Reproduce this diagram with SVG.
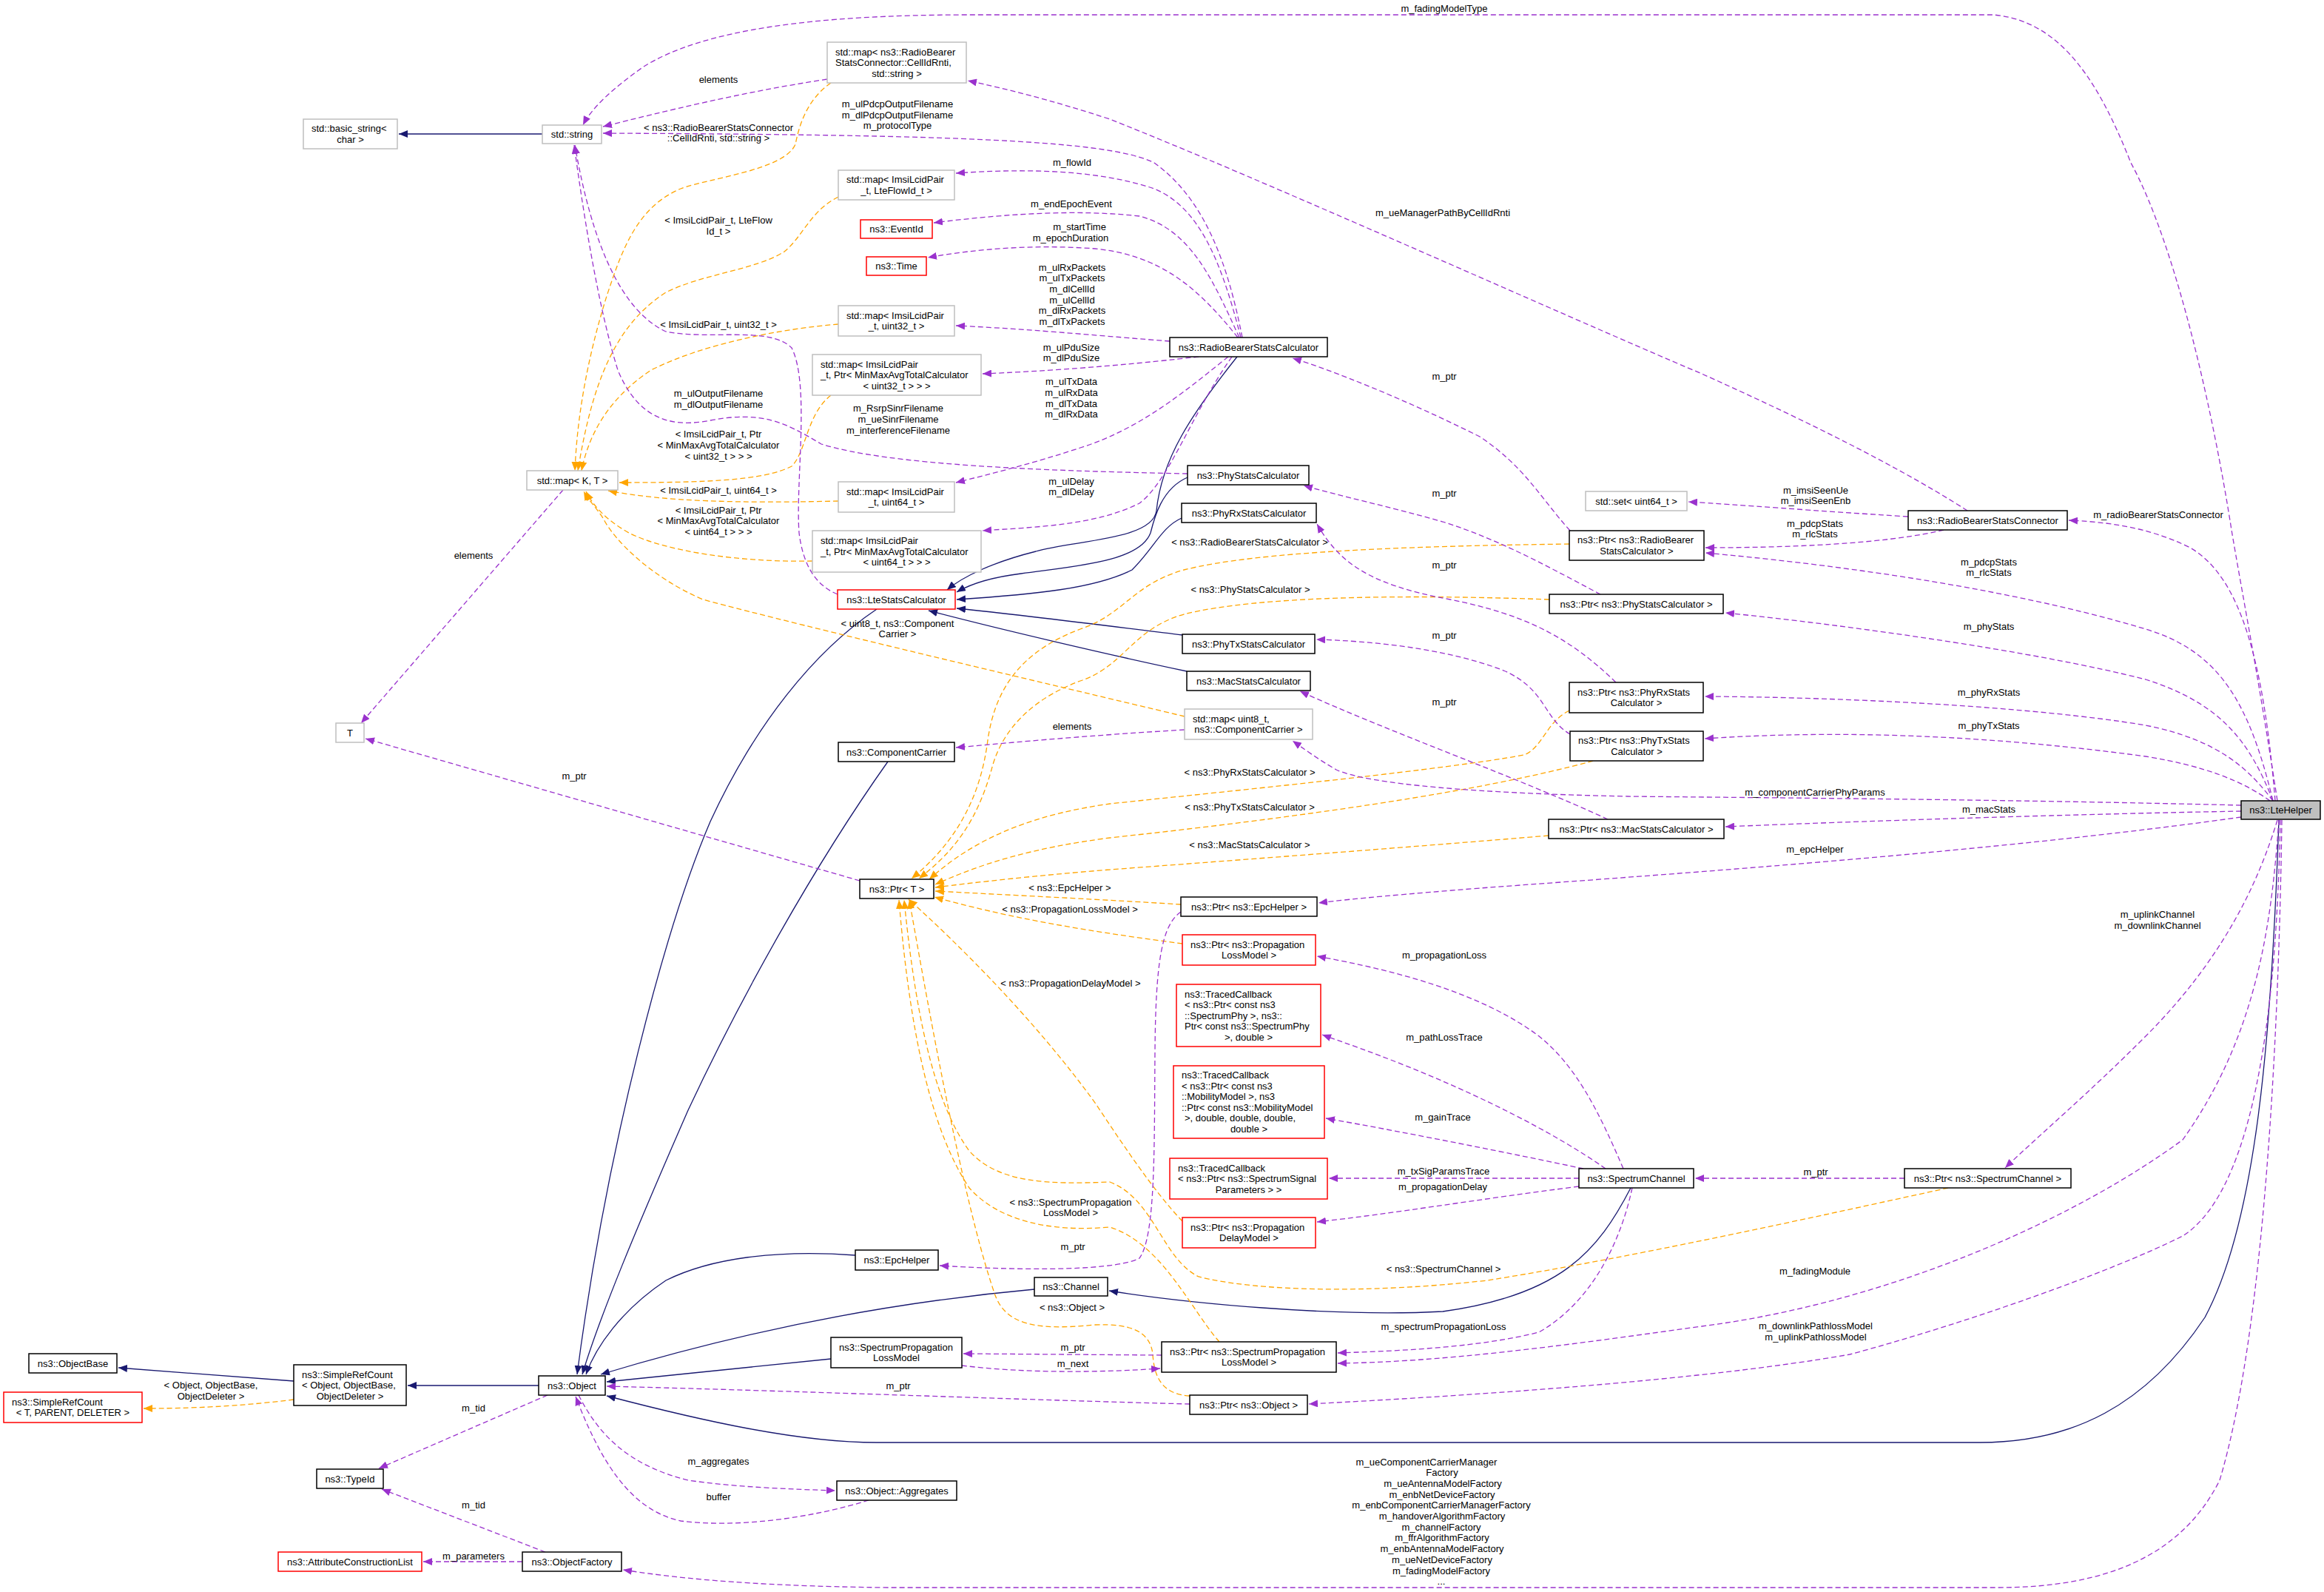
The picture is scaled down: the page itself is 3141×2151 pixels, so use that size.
<svg xmlns="http://www.w3.org/2000/svg" width="3141" height="2151" viewBox="0 0 3141 2151">
<style>
text{font-family:"Liberation Sans",Arial,sans-serif;font-size:13px;fill:#000}
.m{text-anchor:middle}
.s{text-anchor:start}
rect{fill:#fff;stroke-width:1.5}
.k rect{stroke:#000}
.g rect{stroke:#bfbfbf}
.r rect{stroke:#ff0000}
.h rect{stroke:#000;fill:#bfbfbf}
.e path{fill:none;stroke-width:1.3}
.e .inh{stroke:#191970;marker-end:url(#an)}
.e .tpl{stroke:#ffa500;stroke-dasharray:7,4;marker-end:url(#ao)}
.e .use{stroke:#9a32cd;stroke-dasharray:7,4;marker-end:url(#ap)}
</style>
<defs>
<marker id="an" markerUnits="userSpaceOnUse" markerWidth="12" markerHeight="10" refX="12" refY="5" orient="auto"><path d="M0,0 L12,5 L0,10 z" fill="#191970"/></marker>
<marker id="ao" markerUnits="userSpaceOnUse" markerWidth="12" markerHeight="10" refX="12" refY="5" orient="auto"><path d="M0,0 L12,5 L0,10 z" fill="#ffa500"/></marker>
<marker id="ap" markerUnits="userSpaceOnUse" markerWidth="12" markerHeight="10" refX="12" refY="5" orient="auto"><path d="M0,0 L12,5 L0,10 z" fill="#9a32cd"/></marker>
</defs>
<rect x="0" y="0" width="3141" height="2151" style="fill:#fff;stroke:none"/>

<g id="edges" class="e">
<!-- inheritance -->
<path class="inh" d="M733,181 L539,181"/>
<path class="inh" d="M1672,482 C1610,560 1570,620 1563,690 C1558,730 1450,730 1400,745 C1340,760 1300,780 1280,797"/>
<path class="inh" d="M1605,645 C1570,660 1560,700 1555,720 C1540,760 1450,765 1380,775 C1340,780 1310,790 1293,800"/>
<path class="inh" d="M1597,700 C1570,712 1560,740 1530,770 C1480,795 1400,803 1293,810"/>
<path class="inh" d="M1598,858 C1500,846 1400,833 1293,822"/>
<path class="inh" d="M1604,907 C1500,885 1350,850 1255,825"/>
<path class="inh" d="M1185,823 C1100,880 1020,980 960,1110 C900,1250 820,1550 780,1857"/>
<path class="inh" d="M1200,1029 C1100,1170 1000,1350 930,1500 C860,1660 810,1780 787,1857"/>
<path class="inh" d="M1156,1696 C1050,1688 960,1700 900,1730 C840,1770 805,1820 792,1857"/>
<path class="inh" d="M1398,1742 C1200,1760 1000,1800 812,1857"/>
<path class="inh" d="M1123,1836 C1000,1848 900,1858 820,1867"/>
<path class="inh" d="M3080,1108 C3070,1400 3050,1650 2980,1780 C2900,1900 2800,1949 2676,1949 L1185,1949 C1080,1949 950,1920 820,1886"/>
<path class="inh" d="M2204,1605 C2160,1690 2110,1750 1950,1772 C1800,1780 1600,1760 1499,1744"/>
<path class="inh" d="M728,1872 L551,1872"/>
<path class="inh" d="M397,1866 L160,1848"/>
<!-- template -->
<path class="tpl" d="M1123,112 C1090,135 1080,170 1075,195 C1060,230 960,240 920,255 C860,280 840,340 820,400 C795,480 780,560 777,636"/>
<path class="tpl" d="M1133,266 C1095,285 1085,320 1060,340 C1020,365 950,370 900,395 C830,440 800,520 781,636"/>
<path class="tpl" d="M1133,438 C1050,445 950,465 880,500 C820,540 795,590 786,636"/>
<path class="tpl" d="M1123,534 C1090,560 1090,610 1070,630 C1030,650 950,652 837,652"/>
<path class="tpl" d="M1133,677 C1000,680 900,678 822,663"/>
<path class="tpl" d="M1098,758 C1000,760 900,745 850,720 C815,700 800,680 792,664"/>
<path class="tpl" d="M1601,968 C1400,920 1100,850 950,810 C880,780 830,730 815,700 C805,685 795,675 789,664"/>
<path class="tpl" d="M2121,735 C1900,738 1700,745 1600,770 C1530,790 1520,830 1460,850 C1380,880 1345,930 1335,1000 C1325,1080 1290,1140 1232,1187"/>
<path class="tpl" d="M2094,810 C1900,803 1700,805 1600,830 C1530,850 1520,900 1460,920 C1380,950 1350,1000 1340,1040 C1320,1110 1290,1150 1242,1187"/>
<path class="tpl" d="M2121,960 C2090,975 2085,1010 2060,1020 C1950,1040 1700,1065 1500,1086 C1400,1100 1320,1130 1256,1188"/>
<path class="tpl" d="M2153,1028 C2000,1070 1750,1105 1500,1132 C1400,1145 1330,1165 1264,1195"/>
<path class="tpl" d="M2093,1129 C1900,1145 1700,1160 1500,1175 C1400,1183 1320,1192 1264,1199"/>
<path class="tpl" d="M1596,1222 C1500,1216 1380,1210 1264,1204"/>
<path class="tpl" d="M1598,1275 C1500,1262 1380,1245 1263,1212"/>
<path class="tpl" d="M1598,1650 C1560,1610 1520,1550 1480,1490 C1400,1380 1300,1280 1228,1215"/>
<path class="tpl" d="M2633,1605 C2450,1645 2200,1700 2010,1730 C1850,1748 1700,1745 1620,1725 C1570,1700 1560,1620 1500,1597 C1420,1600 1350,1600 1310,1555 C1270,1500 1240,1400 1222,1216"/>
<path class="tpl" d="M1648,1813 C1610,1770 1570,1680 1500,1658 C1420,1665 1350,1650 1310,1605 C1260,1530 1230,1400 1215,1216"/>
<path class="tpl" d="M1608,1886 C1570,1884 1560,1860 1558,1830 C1555,1800 1530,1788 1480,1790 C1400,1798 1360,1790 1345,1750 C1310,1650 1270,1450 1229,1216"/>
<path class="tpl" d="M397,1891 C340,1898 280,1903 194,1903"/>
<!-- usage -->
<path class="use" d="M3078,1082 C3050,900 3030,800 3016,716 C2990,550 2940,330 2880,220 C2840,120 2790,28 2694,20 L1310,20 C1100,20 950,40 870,90 C830,118 800,145 788,169"/>
<path class="use" d="M1118,107 C1000,125 900,150 815,171"/>
<path class="use" d="M1679,456 C1660,360 1630,270 1560,220 C1500,190 1300,182 815,180"/>
<path class="use" d="M1677,456 C1650,350 1620,280 1560,255 C1480,228 1380,228 1292,234"/>
<path class="use" d="M1675,456 C1640,380 1610,310 1540,292 C1450,282 1350,290 1262,301"/>
<path class="use" d="M1673,456 C1620,390 1570,345 1480,336 C1400,330 1320,336 1254,348"/>
<path class="use" d="M1581,461 C1500,455 1400,445 1292,440"/>
<path class="use" d="M1620,482 C1550,490 1450,500 1328,505"/>
<path class="use" d="M1660,482 C1600,530 1540,580 1460,605 C1400,625 1340,640 1292,652"/>
<path class="use" d="M1665,482 C1610,560 1580,650 1540,680 C1480,710 1400,712 1328,717"/>
<path class="use" d="M1132,803 C1100,790 1085,760 1080,720 C1075,650 1095,520 1070,470 C1040,440 960,460 900,448 C840,420 800,330 777,196"/>
<path class="use" d="M1605,640 C1400,636 1200,628 1110,600 C1060,570 1030,555 960,568 C900,580 860,560 835,500 C810,420 790,300 776,196"/>
<path class="use" d="M761,662 L488,977"/>
<path class="use" d="M1162,1190 L494,998"/>
<path class="use" d="M2659,690 C2550,620 2400,550 2300,505 C2100,420 1700,240 1500,161 C1420,135 1360,120 1308,109"/>
<path class="use" d="M2122,717 C2080,670 2060,630 2000,590 C1900,540 1800,500 1747,484"/>
<path class="use" d="M2163,803 C2100,770 2030,730 1950,705 C1880,685 1810,670 1762,656"/>
<path class="use" d="M2184,922 C2120,860 2060,830 1960,810 C1850,790 1810,760 1780,708"/>
<path class="use" d="M2122,992 C2085,970 2090,930 2030,905 C1950,875 1850,866 1779,864"/>
<path class="use" d="M2173,1107 C2050,1050 1880,990 1757,934"/>
<path class="use" d="M2579,698 C2450,690 2350,682 2282,678"/>
<path class="use" d="M2627,716 C2560,732 2450,740 2305,740"/>
<path class="use" d="M3072,1082 C3040,950 3000,880 2900,850 C2700,790 2450,760 2305,747"/>
<path class="use" d="M3075,1082 C3060,900 3030,780 2960,740 C2900,710 2840,705 2796,703"/>
<path class="use" d="M3072,1082 C3040,1000 3000,950 2900,918 C2750,880 2500,845 2332,828"/>
<path class="use" d="M3072,1082 C3040,1040 3000,1000 2900,980 C2750,955 2500,942 2304,941"/>
<path class="use" d="M3068,1082 C3030,1055 2980,1035 2900,1022 C2700,995 2500,985 2304,998"/>
<path class="use" d="M3029,1088 C2700,1080 2400,1078 2200,1076 C2000,1072 1850,1060 1806,1040 C1780,1025 1760,1010 1747,1001"/>
<path class="use" d="M3029,1096 C2800,1100 2500,1110 2332,1117"/>
<path class="use" d="M3029,1104 C2700,1150 2300,1178 2000,1200 C1900,1208 1830,1214 1782,1220"/>
<path class="use" d="M1601,986 C1450,995 1350,1005 1292,1010"/>
<path class="use" d="M1596,1232 C1570,1250 1562,1300 1561,1420 C1560,1550 1562,1670 1540,1700 C1500,1720 1350,1715 1270,1710"/>
<path class="use" d="M2194,1579 C2160,1500 2130,1440 2080,1400 C2000,1340 1880,1310 1780,1292"/>
<path class="use" d="M2170,1579 C2100,1530 2000,1480 1900,1440 C1850,1420 1820,1410 1787,1398"/>
<path class="use" d="M2140,1579 C2050,1560 1900,1530 1792,1511"/>
<path class="use" d="M2134,1592 L1796,1592"/>
<path class="use" d="M2134,1603 C2000,1620 1880,1640 1780,1651"/>
<path class="use" d="M2574,1592 L2291,1592"/>
<path class="use" d="M2206,1605 C2190,1680 2150,1760 2080,1800 C2000,1820 1900,1825 1808,1828"/>
<path class="use" d="M3078,1108 C3050,1200 3000,1300 2900,1400 C2820,1480 2760,1530 2710,1578"/>
<path class="use" d="M3080,1108 C3070,1250 3050,1400 2950,1540 C2800,1650 2550,1760 2300,1792 C2100,1820 1950,1840 1808,1842"/>
<path class="use" d="M3082,1108 C3078,1300 3060,1600 2950,1670 C2850,1720 2650,1790 2500,1830 C2300,1865 2000,1885 1769,1897"/>
<path class="use" d="M3084,1108 C3080,1400 3060,1800 3000,2000 C2950,2100 2850,2145 2700,2145 L1200,2145 C1000,2143 900,2130 842,2121"/>
<path class="use" d="M1570,1831 L1302,1829"/>
<path class="use" d="M1300,1845 C1380,1855 1480,1855 1568,1849"/>
<path class="use" d="M1608,1897 C1400,1892 1100,1880 820,1873"/>
<path class="use" d="M740,1885 L512,1984"/>
<path class="use" d="M782,1885 C810,1940 850,1980 930,2000 C1000,2010 1070,2012 1129,2014"/>
<path class="use" d="M1174,2027 C1100,2050 1000,2065 920,2055 C850,2040 810,1970 778,1887"/>
<path class="use" d="M737,2097 L516,2012"/>
<path class="use" d="M706,2110 L572,2110"/>
</g>

<g id="edge-labels" class="m">
<text class="m" x="1952" y="16">m_fadingModelType</text>
<text class="m" x="971" y="112">elements</text>
<text class="m" x="1213" y="145">m_ulPdcpOutputFilename</text>
<text class="m" x="1213" y="160">m_dlPdcpOutputFilename</text>
<text class="m" x="1213" y="174">m_protocolType</text>
<text class="m" x="971" y="177">&lt; ns3::RadioBearerStatsConnector</text>
<text class="m" x="971" y="191">::CellIdRnti, std::string &gt;</text>
<text class="m" x="1449" y="224">m_flowId</text>
<text class="m" x="1448" y="280">m_endEpochEvent</text>
<text class="m" x="1459" y="311">m_startTime</text>
<text class="m" x="1447" y="326">m_epochDuration</text>
<text class="m" x="1449" y="366">m_ulRxPackets</text>
<text class="m" x="1449" y="380">m_ulTxPackets</text>
<text class="m" x="1449" y="395">m_dlCellId</text>
<text class="m" x="1449" y="410">m_ulCellId</text>
<text class="m" x="1449" y="424">m_dlRxPackets</text>
<text class="m" x="1449" y="439">m_dlTxPackets</text>
<text class="m" x="1448" y="474">m_ulPduSize</text>
<text class="m" x="1448" y="488">m_dlPduSize</text>
<text class="m" x="1448" y="520">m_ulTxData</text>
<text class="m" x="1448" y="535">m_ulRxData</text>
<text class="m" x="1448" y="550">m_dlTxData</text>
<text class="m" x="1448" y="564">m_dlRxData</text>
<text class="m" x="1448" y="655">m_ulDelay</text>
<text class="m" x="1448" y="669">m_dlDelay</text>
<text class="m" x="971" y="302">&lt; ImsiLcidPair_t, LteFlow</text>
<text class="m" x="971" y="317">Id_t &gt;</text>
<text class="m" x="971" y="443">&lt; ImsiLcidPair_t, uint32_t &gt;</text>
<text class="m" x="971" y="536">m_ulOutputFilename</text>
<text class="m" x="971" y="551">m_dlOutputFilename</text>
<text class="m" x="1214" y="556">m_RsrpSinrFilename</text>
<text class="m" x="1214" y="571">m_ueSinrFilename</text>
<text class="m" x="1214" y="586">m_interferenceFilename</text>
<text class="m" x="971" y="591">&lt; ImsiLcidPair_t, Ptr</text>
<text class="m" x="971" y="606">&lt; MinMaxAvgTotalCalculator</text>
<text class="m" x="971" y="621">&lt; uint32_t &gt; &gt; &gt;</text>
<text class="m" x="971" y="667">&lt; ImsiLcidPair_t, uint64_t &gt;</text>
<text class="m" x="971" y="694">&lt; ImsiLcidPair_t, Ptr</text>
<text class="m" x="971" y="708">&lt; MinMaxAvgTotalCalculator</text>
<text class="m" x="971" y="723">&lt; uint64_t &gt; &gt; &gt;</text>
<text class="m" x="1950" y="292">m_ueManagerPathByCellIdRnti</text>
<text class="m" x="1952" y="513">m_ptr</text>
<text class="m" x="1952" y="671">m_ptr</text>
<text class="m" x="2454" y="667">m_imsiSeenUe</text>
<text class="m" x="2454" y="681">m_imsiSeenEnb</text>
<text class="m" x="2917" y="700">m_radioBearerStatsConnector</text>
<text class="m" x="2453" y="712">m_pdcpStats</text>
<text class="m" x="2453" y="726">m_rlcStats</text>
<text class="m" x="2688" y="764">m_pdcpStats</text>
<text class="m" x="2688" y="778">m_rlcStats</text>
<text class="m" x="2688" y="851">m_phyStats</text>
<text class="m" x="2688" y="940">m_phyRxStats</text>
<text class="m" x="2688" y="985">m_phyTxStats</text>
<text class="m" x="2453" y="1075">m_componentCarrierPhyParams</text>
<text class="m" x="2688" y="1098">m_macStats</text>
<text class="m" x="2453" y="1152">m_epcHelper</text>
<text class="m" x="2916" y="1240">m_uplinkChannel</text>
<text class="m" x="2916" y="1255">m_downlinkChannel</text>
<text class="m" x="640" y="755">elements</text>
<text class="m" x="776" y="1053">m_ptr</text>
<text class="m" x="1213" y="847">&lt; uint8_t, ns3::Component</text>
<text class="m" x="1213" y="861">Carrier &gt;</text>
<text class="m" x="1449" y="986">elements</text>
<text class="m" x="1446" y="1204">&lt; ns3::EpcHelper &gt;</text>
<text class="m" x="1446" y="1233">&lt; ns3::PropagationLossModel &gt;</text>
<text class="m" x="1447" y="1333">&lt; ns3::PropagationDelayModel &gt;</text>
<text class="m" x="1689" y="737">&lt; ns3::RadioBearerStatsCalculator &gt;</text>
<text class="m" x="1952" y="768">m_ptr</text>
<text class="m" x="1690" y="801">&lt; ns3::PhyStatsCalculator &gt;</text>
<text class="m" x="1952" y="863">m_ptr</text>
<text class="m" x="1952" y="953">m_ptr</text>
<text class="m" x="1689" y="1048">&lt; ns3::PhyRxStatsCalculator &gt;</text>
<text class="m" x="1689" y="1095">&lt; ns3::PhyTxStatsCalculator &gt;</text>
<text class="m" x="1689" y="1146">&lt; ns3::MacStatsCalculator &gt;</text>
<text class="m" x="1952" y="1295">m_propagationLoss</text>
<text class="m" x="1952" y="1406">m_pathLossTrace</text>
<text class="m" x="1950" y="1514">m_gainTrace</text>
<text class="m" x="1951" y="1587">m_txSigParamsTrace</text>
<text class="m" x="1950" y="1608">m_propagationDelay</text>
<text class="m" x="1951" y="1719">&lt; ns3::SpectrumChannel &gt;</text>
<text class="m" x="1951" y="1797">m_spectrumPropagationLoss</text>
<text class="m" x="1928" y="1980">m_ueComponentCarrierManager</text>
<text class="m" x="1949" y="1994">Factory</text>
<text class="m" x="1950" y="2009">m_ueAntennaModelFactory</text>
<text class="m" x="1949" y="2024">m_enbNetDeviceFactory</text>
<text class="m" x="1948" y="2038">m_enbComponentCarrierManagerFactory</text>
<text class="m" x="1949" y="2053">m_handoverAlgorithmFactory</text>
<text class="m" x="1948" y="2068">m_channelFactory</text>
<text class="m" x="1949" y="2082">m_ffrAlgorithmFactory</text>
<text class="m" x="1949" y="2097">m_enbAntennaModelFactory</text>
<text class="m" x="1949" y="2112">m_ueNetDeviceFactory</text>
<text class="m" x="1948" y="2127">m_fadingModelFactory</text>
<text class="m" x="1948" y="2141">...</text>
<text class="m" x="1447" y="1629">&lt; ns3::SpectrumPropagation</text>
<text class="m" x="1447" y="1643">LossModel &gt;</text>
<text class="m" x="1450" y="1689">m_ptr</text>
<text class="m" x="1449" y="1771">&lt; ns3::Object &gt;</text>
<text class="m" x="1450" y="1825">m_ptr</text>
<text class="m" x="1450" y="1847">m_next</text>
<text class="m" x="1214" y="1877">m_ptr</text>
<text class="m" x="971" y="1979">m_aggregates</text>
<text class="m" x="971" y="2027">buffer</text>
<text class="m" x="285" y="1876">&lt; Object, ObjectBase,</text>
<text class="m" x="285" y="1891">ObjectDeleter &gt;</text>
<text class="m" x="640" y="1907">m_tid</text>
<text class="m" x="640" y="2038">m_tid</text>
<text class="m" x="640" y="2107">m_parameters</text>
<text class="m" x="2454" y="1588">m_ptr</text>
<text class="m" x="2453" y="1722">m_fadingModule</text>
<text class="m" x="2454" y="1796">m_downlinkPathlossModel</text>
<text class="m" x="2454" y="1811">m_uplinkPathlossModel</text>
</g>

<g id="n_basic_string" class="g"><rect x="410" y="161" width="127" height="40"/><text class="s" x="421" y="178.3">std::basic_string&lt;</text><text class="m" x="473.5" y="192.8">char &gt;</text></g>
<g id="n_string" class="g"><rect x="733" y="169" width="80" height="25"/><text class="m" x="773" y="186">std::string</text></g>
<g id="n_map_KT" class="g"><rect x="712" y="636" width="123" height="26"/><text class="m" x="773.5" y="653.5">std::map&lt; K, T &gt;</text></g>
<g id="n_T" class="g"><rect x="454" y="977" width="38" height="26"/><text class="m" x="473" y="994.5">T</text></g>
<g id="n_map_rbsc" class="g"><rect x="1118" y="57" width="188" height="55"/><text class="s" x="1129" y="74.5">std::map&lt; ns3::RadioBearer</text><text class="s" x="1129" y="89">StatsConnector::CellIdRnti,</text><text class="m" x="1212" y="103.5">std::string &gt;</text></g>
<g id="n_map_flow" class="g"><rect x="1133" y="230" width="157" height="40"/><text class="s" x="1144" y="247.3">std::map&lt; ImsiLcidPair</text><text class="m" x="1211.5" y="261.8">_t, LteFlowId_t &gt;</text></g>
<g id="n_eventid" class="r"><rect x="1163" y="297" width="97" height="25"/><text class="m" x="1211.5" y="314">ns3::EventId</text></g>
<g id="n_time" class="r"><rect x="1171" y="347" width="81" height="25"/><text class="m" x="1211.5" y="364">ns3::Time</text></g>
<g id="n_map_u32" class="g"><rect x="1133" y="413" width="157" height="41"/><text class="s" x="1144" y="430.8">std::map&lt; ImsiLcidPair</text><text class="m" x="1211.5" y="445.3">_t, uint32_t &gt;</text></g>
<g id="n_map_pu32" class="g"><rect x="1098" y="479" width="228" height="55"/><text class="s" x="1109" y="496.5">std::map&lt; ImsiLcidPair</text><text class="s" x="1109" y="511">_t, Ptr&lt; MinMaxAvgTotalCalculator</text><text class="m" x="1212" y="525.5">&lt; uint32_t &gt; &gt; &gt;</text></g>
<g id="n_map_u64" class="g"><rect x="1133" y="651" width="157" height="41"/><text class="s" x="1144" y="668.8">std::map&lt; ImsiLcidPair</text><text class="m" x="1211.5" y="683.3">_t, uint64_t &gt;</text></g>
<g id="n_map_pu64" class="g"><rect x="1098" y="717" width="228" height="56"/><text class="s" x="1109" y="735">std::map&lt; ImsiLcidPair</text><text class="s" x="1109" y="749.5">_t, Ptr&lt; MinMaxAvgTotalCalculator</text><text class="m" x="1212" y="764">&lt; uint64_t &gt; &gt; &gt;</text></g>
<g id="n_ltestats" class="r"><rect x="1132" y="797" width="159" height="26"/><text class="m" x="1211.5" y="814.5">ns3::LteStatsCalculator</text></g>
<g id="n_cc" class="k"><rect x="1133" y="1003" width="157" height="26"/><text class="m" x="1211.5" y="1020.5">ns3::ComponentCarrier</text></g>
<g id="n_ptrT" class="k"><rect x="1162" y="1188" width="100" height="26"/><text class="m" x="1212" y="1205.5">ns3::Ptr&lt; T &gt;</text></g>
<g id="n_rbscalc" class="k"><rect x="1581" y="456" width="213" height="26"/><text class="m" x="1687.5" y="473.5">ns3::RadioBearerStatsCalculator</text></g>
<g id="n_phystats" class="k"><rect x="1605" y="629" width="164" height="26"/><text class="m" x="1687" y="646.5">ns3::PhyStatsCalculator</text></g>
<g id="n_phyrx" class="k"><rect x="1597" y="680" width="182" height="26"/><text class="m" x="1688" y="697.5">ns3::PhyRxStatsCalculator</text></g>
<g id="n_phytx" class="k"><rect x="1598" y="857" width="179" height="26"/><text class="m" x="1687.5" y="874.5">ns3::PhyTxStatsCalculator</text></g>
<g id="n_mac" class="k"><rect x="1604" y="907" width="167" height="26"/><text class="m" x="1687.5" y="924.5">ns3::MacStatsCalculator</text></g>
<g id="n_map_cc" class="g"><rect x="1601" y="958" width="173" height="41"/><text class="s" x="1612" y="975.8">std::map&lt; uint8_t,</text><text class="m" x="1687.5" y="990.3">ns3::ComponentCarrier &gt;</text></g>
<g id="n_set" class="g"><rect x="2143" y="664" width="137" height="26"/><text class="m" x="2211.5" y="681.5">std::set&lt; uint64_t &gt;</text></g>
<g id="n_rbsconn" class="k"><rect x="2579" y="690" width="215" height="26"/><text class="m" x="2686.5" y="707.5">ns3::RadioBearerStatsConnector</text></g>
<g id="n_ptr_rbscalc" class="k"><rect x="2121" y="717" width="182" height="40"/><text class="s" x="2132" y="734.3">ns3::Ptr&lt; ns3::RadioBearer</text><text class="m" x="2212" y="748.8">StatsCalculator &gt;</text></g>
<g id="n_ptr_phystats" class="k"><rect x="2094" y="803" width="235" height="26"/><text class="m" x="2211.5" y="820.5">ns3::Ptr&lt; ns3::PhyStatsCalculator &gt;</text></g>
<g id="n_ptr_phyrx" class="k"><rect x="2121" y="922" width="181" height="41"/><text class="s" x="2132" y="939.8">ns3::Ptr&lt; ns3::PhyRxStats</text><text class="m" x="2211.5" y="954.3">Calculator &gt;</text></g>
<g id="n_ptr_phytx" class="k"><rect x="2122" y="988" width="180" height="40"/><text class="s" x="2133" y="1005.3">ns3::Ptr&lt; ns3::PhyTxStats</text><text class="m" x="2212" y="1019.8">Calculator &gt;</text></g>
<g id="n_ptr_mac" class="k"><rect x="2093" y="1107" width="237" height="26"/><text class="m" x="2211.5" y="1124.5">ns3::Ptr&lt; ns3::MacStatsCalculator &gt;</text></g>
<g id="n_ltehelper" class="h"><rect x="3029" y="1082" width="107" height="25"/><text class="m" x="3082.5" y="1099">ns3::LteHelper</text></g>
<g id="n_ptr_epc" class="k"><rect x="1596" y="1212" width="184" height="26"/><text class="m" x="1688" y="1229.5">ns3::Ptr&lt; ns3::EpcHelper &gt;</text></g>
<g id="n_ptr_proploss" class="r"><rect x="1598" y="1263" width="180" height="41"/><text class="s" x="1609" y="1280.8">ns3::Ptr&lt; ns3::Propagation</text><text class="m" x="1688" y="1295.3">LossModel &gt;</text></g>
<g id="n_tc_spectrumphy" class="r"><rect x="1590" y="1330" width="195" height="84"/><text class="s" x="1601" y="1347.5">ns3::TracedCallback</text><text class="s" x="1601" y="1362">&lt; ns3::Ptr&lt; const ns3</text><text class="s" x="1601" y="1376.5">::SpectrumPhy &gt;, ns3::</text><text class="s" x="1601" y="1391">Ptr&lt; const ns3::SpectrumPhy</text><text class="m" x="1687.5" y="1405.5">&gt;, double &gt;</text></g>
<g id="n_tc_mobility" class="r"><rect x="1586" y="1440" width="204" height="98"/><text class="s" x="1597" y="1457.3">ns3::TracedCallback</text><text class="s" x="1597" y="1471.8">&lt; ns3::Ptr&lt; const ns3</text><text class="s" x="1597" y="1486.3">::MobilityModel &gt;, ns3</text><text class="s" x="1597" y="1500.8">::Ptr&lt; const ns3::MobilityModel</text><text class="s" x="1601" y="1515.3">&gt;, double, double, double,</text><text class="m" x="1688" y="1529.8">double &gt;</text></g>
<g id="n_tc_signal" class="r"><rect x="1581" y="1565" width="213" height="55"/><text class="s" x="1592" y="1582.5">ns3::TracedCallback</text><text class="s" x="1592" y="1597">&lt; ns3::Ptr&lt; ns3::SpectrumSignal</text><text class="m" x="1687.5" y="1611.5">Parameters &gt; &gt;</text></g>
<g id="n_ptr_propdelay" class="r"><rect x="1598" y="1645" width="180" height="41"/><text class="s" x="1609" y="1662.8">ns3::Ptr&lt; ns3::Propagation</text><text class="m" x="1688" y="1677.3">DelayModel &gt;</text></g>
<g id="n_spectrumchannel" class="k"><rect x="2134" y="1579" width="155" height="26"/><text class="m" x="2211.5" y="1596.5">ns3::SpectrumChannel</text></g>
<g id="n_ptr_sc" class="k"><rect x="2574" y="1579" width="225" height="26"/><text class="m" x="2686.5" y="1596.5">ns3::Ptr&lt; ns3::SpectrumChannel &gt;</text></g>
<g id="n_ptr_spl" class="k"><rect x="1570" y="1813" width="236" height="41"/><text class="s" x="1581" y="1830.8">ns3::Ptr&lt; ns3::SpectrumPropagation</text><text class="m" x="1688" y="1845.3">LossModel &gt;</text></g>
<g id="n_ptr_object" class="k"><rect x="1608" y="1885" width="159" height="26"/><text class="m" x="1687.5" y="1902.5">ns3::Ptr&lt; ns3::Object &gt;</text></g>
<g id="n_epchelper" class="k"><rect x="1156" y="1689" width="112" height="27"/><text class="m" x="1212" y="1707">ns3::EpcHelper</text></g>
<g id="n_channel" class="k"><rect x="1398" y="1726" width="99" height="25"/><text class="m" x="1447.5" y="1743">ns3::Channel</text></g>
<g id="n_splm" class="k"><rect x="1123" y="1807" width="177" height="41"/><text class="s" x="1134" y="1824.8">ns3::SpectrumPropagation</text><text class="m" x="1211.5" y="1839.3">LossModel</text></g>
<g id="n_object" class="k"><rect x="728" y="1859" width="90" height="26"/><text class="m" x="773" y="1876.5">ns3::Object</text></g>
<g id="n_aggregates" class="k"><rect x="1131" y="2001" width="162" height="26"/><text class="m" x="1212" y="2018.5">ns3::Object::Aggregates</text></g>
<g id="n_objectbase" class="k"><rect x="39" y="1829" width="119" height="26"/><text class="m" x="98.5" y="1846.5">ns3::ObjectBase</text></g>
<g id="n_src_T" class="r"><rect x="5" y="1881" width="187" height="41"/><text class="s" x="16" y="1898.8">ns3::SimpleRefCount</text><text class="m" x="98.5" y="1913.3">&lt; T, PARENT, DELETER &gt;</text></g>
<g id="n_src_object" class="k"><rect x="397" y="1844" width="152" height="55"/><text class="s" x="408" y="1861.5">ns3::SimpleRefCount</text><text class="s" x="408" y="1876">&lt; Object, ObjectBase,</text><text class="m" x="473" y="1890.5">ObjectDeleter &gt;</text></g>
<g id="n_typeid" class="k"><rect x="428" y="1985" width="90" height="26"/><text class="m" x="473" y="2002.5">ns3::TypeId</text></g>
<g id="n_acl" class="r"><rect x="376" y="2097" width="194" height="26"/><text class="m" x="473" y="2114.5">ns3::AttributeConstructionList</text></g>
<g id="n_objectfactory" class="k"><rect x="706" y="2097" width="134" height="26"/><text class="m" x="773" y="2114.5">ns3::ObjectFactory</text></g>
</svg>
